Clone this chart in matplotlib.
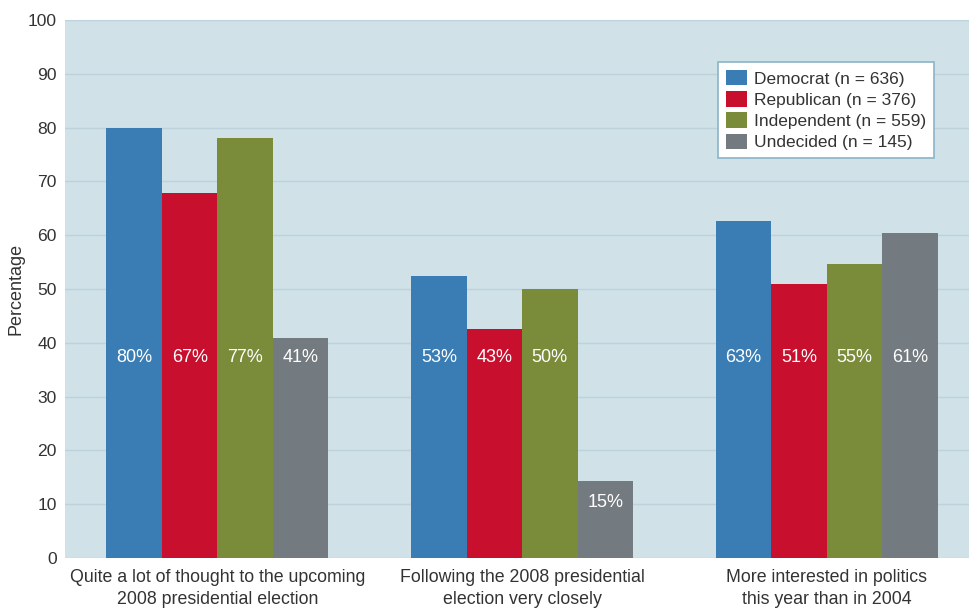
import matplotlib
matplotlib.use("Agg")
import matplotlib.pyplot as plt
import numpy as np

categories = ["Quite a lot of thought to the upcoming\n2008 presidential election",
              "Following the 2008 presidential\nelection very closely",
              "More interested in politics\nthis year than in 2004"]
series = ["Democrat (n = 636)", "Republican (n = 376)", "Independent (n = 559)", "Undecided (n = 145)"]
democrat = [79.9, 52.4, 62.6]
republican = [67.8, 42.6, 50.9]
independent = [78.0, 50.0, 54.6]
undecided = [40.9, 14.3, 60.4]
labels = [["80%", "53%", "63%"], ["67%", "43%", "51%"], ["77%", "50%", "55%"], ["41%", "15%", "61%"]]
colors = ["#3a7db5", "#c8102e", "#7a8c3a", "#737a80"]

plt.rcParams['font.family'] = ['Liberation Sans', 'DejaVu Sans']
fig = plt.figure(figsize=(9.7, 6.08), dpi=100)
ax = fig.add_axes([65/970, 1-558/608, 905/970, 538/608])
ax.set_facecolor("#d0e1e8")
x = np.arange(len(categories))
w = 0.182
data = [democrat, republican, independent, undecided]
for i, (vals, c) in enumerate(zip(data, colors)):
    pos = x + (i - 1.5) * w
    ax.bar(pos, vals, w, color=c, label=series[i], zorder=3)
    for p, v, lab in zip(pos, vals, labels[i]):
        ypos = 37.2 if v > 30 else v - 4
        ax.text(p, ypos, lab, ha="center", va="center", color="white",
                fontsize=13, zorder=4)

ax.set_ylim(0, 100)
ax.set_xlim(-0.5, 2.47)
ax.set_yticks(range(0, 101, 10))
ax.yaxis.grid(True, color="#bdd2db", linewidth=1, zorder=0)
ax.set_xticks(x)
ax.set_xticklabels(categories, fontsize=12.8, color="#333333", linespacing=1.35)
ax.tick_params(axis="y", labelsize=12.6, labelcolor="#333333", length=0, pad=6)
ax.tick_params(axis="x", length=0, pad=8)
for s in ax.spines.values():
    s.set_visible(False)
ax.set_ylabel("Percentage", fontsize=13, color="#333333")
ax.yaxis.set_label_coords(-0.045, 0.5)
leg = ax.legend(loc="upper left", bbox_to_anchor=((718-65)/905, (558-62)/538), borderaxespad=0,
                fontsize=12.5, frameon=True, fancybox=False, handlelength=1.2, handleheight=1.0,
                handletextpad=0.45, borderpad=0.45, labelspacing=0.26, labelcolor="#333333")
leg.get_frame().set_edgecolor("#8ab4c8")
leg.get_frame().set_linewidth(1.2)
leg.get_frame().set_facecolor("white")
leg.get_frame().set_alpha(1)
fig.savefig("out.png", dpi=100)
